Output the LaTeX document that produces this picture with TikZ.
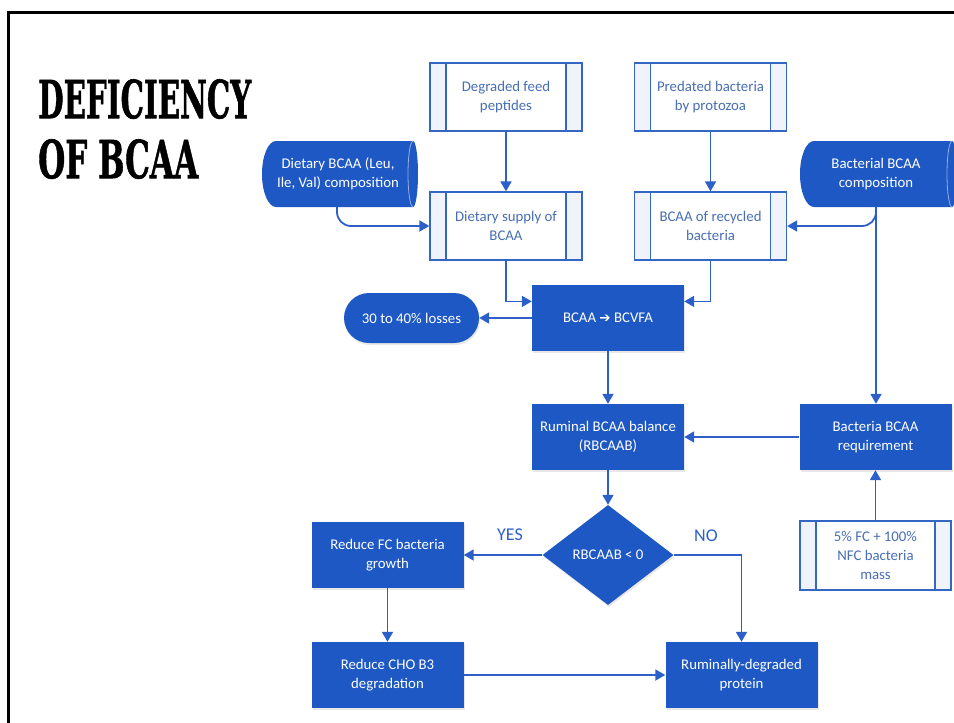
\documentclass[tikz,border=0pt]{standalone}
\usepackage{fontspec}
\usepackage{graphicx}
\setmainfont{Carlito}
\newfontfamily\titlefont{DejaVu Serif Condensed}[FakeBold=1.2]
\newfontfamily\symfont{DejaVu Sans}
\usetikzlibrary{arrows.meta,calc,shapes.geometric,shadows}

\definecolor{flowblue}{RGB}{30,88,196}
\definecolor{wireblue}{RGB}{44,96,200}
\definecolor{edgeblue}{RGB}{52,102,196}
\definecolor{paletext}{RGB}{72,110,180}
\definecolor{stripfill}{RGB}{240,243,249}
\definecolor{capline}{RGB}{150,175,225}

\tikzset{
  basefont/.style={font=\fontsize{14.8}{19}\selectfont, align=center, inner sep=0pt},
  lightbox/.style={basefont, draw=edgeblue, line width=1.3pt, fill=white, text=paletext,
    minimum width=152pt, minimum height=68pt,
    path picture={
      \fill[stripfill] (path picture bounding box.north west) rectangle ([xshift=16pt]path picture bounding box.south west);
      \fill[stripfill] (path picture bounding box.north east) rectangle ([xshift=-16pt]path picture bounding box.south east);
      \draw[edgeblue, line width=1.3pt] ([xshift=16pt]path picture bounding box.north west) -- ([xshift=16pt]path picture bounding box.south west);
      \draw[edgeblue, line width=1.3pt] ([xshift=-16pt]path picture bounding box.north east) -- ([xshift=-16pt]path picture bounding box.south east);
    }},
  bluebox/.style={basefont, fill=flowblue, text=white, minimum width=152pt, minimum height=66pt,
    drop shadow={opacity=0.18, shadow xshift=1pt, shadow yshift=-2pt}},
  pill/.style={bluebox, minimum width=135pt, minimum height=50pt, rounded corners=25pt},
  decision/.style={basefont, shape=diamond, fill=flowblue, text=white,
    minimum width=131pt, minimum height=100pt, aspect=1.31,
    drop shadow={opacity=0.18, shadow xshift=1pt, shadow yshift=-2pt}},
  cyltext/.style={basefont, text=white, minimum width=150pt, minimum height=66pt},
  cylbody/.style={fill=flowblue},
  capcurve/.style={draw=capline, line width=0.8pt},
  arr/.style={draw=wireblue, line width=1.8pt, -{Triangle[length=10pt,width=11pt]}},
  answer/.style={font=\fontsize{18}{20}\selectfont, text=wireblue, inner sep=0pt},
  heading/.style={anchor=north west, inner sep=0pt, text=black},
  frame/.style={draw=black, line width=3pt}
}

\begin{document}
\begin{tikzpicture}[x=1pt,y=-1pt]
\useasboundingbox (0,0) rectangle (954,723);
\clip (0,0) rectangle (954,723);

% slide frame
\draw[frame] (960,12) -- (8.5,12) -- (8.5,730);

% title
\node[heading] (t1) at (38,79) {\resizebox{213pt}{39pt}{\titlefont\bfseries DEFICIENCY}};
\node[heading] (t2) at (38,139) {\resizebox{160pt}{39pt}{\titlefont\bfseries OF BCAA}};

% horizontal cylinders (direct data)
\fill[cylbody] (276,141) -- (413,141) arc[start angle=-90, end angle=90, x radius=5, y radius=33]
  -- (276,207) arc[start angle=90, end angle=270, x radius=14, y radius=33] -- cycle;
\draw[capcurve] (413,141) arc[start angle=270, end angle=90, x radius=5, y radius=33];
\fill[cylbody] (814,141) -- (952,141) arc[start angle=-90, end angle=90, x radius=5, y radius=33]
  -- (814,207) arc[start angle=90, end angle=270, x radius=14, y radius=33] -- cycle;
\draw[capcurve] (952,141) arc[start angle=270, end angle=90, x radius=5, y radius=33];
\node[cyltext] (dbc) at (338,174) {Dietary BCAA (Leu,\\Ile, Val) composition};
\node[cyltext] (bbc) at (876,174) {Bacterial BCAA\\composition};

% process steps
\node[lightbox] (dfp) at (506,97) {Degraded feed\\peptides};
\node[lightbox] (pbp) at (710.5,97) {Predated bacteria\\by protozoa};
\node[lightbox] (dsup) at (506,226) {Dietary supply of\\BCAA};
\node[lightbox] (rec) at (710.5,226) {BCAA of recycled\\bacteria};
\node[bluebox] (bcvfa) at (608,318) {BCAA {\symfont\fontsize{13.5}{12}\selectfont ➔} BCVFA};
\node[pill] (loss) at (411.5,318) {30 to 40\% losses};
\node[bluebox] (rbal) at (608,437) {Ruminal BCAA balance\\(RBCAAB)};
\node[bluebox] (breq) at (875.5,437) {Bacteria BCAA\\requirement};
\node[lightbox, minimum width=151pt, minimum height=69pt] (mass) at (875.5,555.5) {5\% FC + 100\%\\NFC bacteria\\mass};
\node[decision] (chk) at (608,555) {RBCAAB < 0};
\node[bluebox] (rfc) at (387.5,555) {Reduce FC bacteria\\growth};
\node[bluebox] (rcho) at (387.5,675) {Reduce CHO B3\\degradation};
\node[bluebox] (rdp) at (741.5,675) {Ruminally-degraded\\protein};

\node[answer] (yes) at (510,535) {YES};
\node[answer] (no) at (706,536) {NO};

% connectors
\draw[arr] (dfp) -- (dsup);
\draw[arr] (pbp) -- (rec);
\draw[arr, rounded corners=14pt] ([xshift=-1pt]dbc.south) |- (dsup.west);
\draw[arr, rounded corners=14pt] (bbc.south) |- (rec.east);
\draw[arr] (bbc.south) -- (bbc.south |- breq.north);
\draw[arr] (dsup.south) |- ($(bcvfa.north west)!0.25!(bcvfa.south west)$);
\draw[arr] (rec.south) |- ($(bcvfa.north east)!0.25!(bcvfa.south east)$);
\draw[arr] (bcvfa.west) -- (loss.east);
\draw[arr] (bcvfa) -- (rbal);
\draw[arr] (breq) -- (rbal);
\draw[arr] (mass) -- (breq);
\draw[arr] (rbal) -- (chk);
\draw[arr] (chk.west) -- (rfc.east);
\draw[arr] (chk.east) -| (rdp.north);
\draw[arr] (rfc) -- (rcho);
\draw[arr] (rcho) -- (rdp);
\end{tikzpicture}
\end{document}
